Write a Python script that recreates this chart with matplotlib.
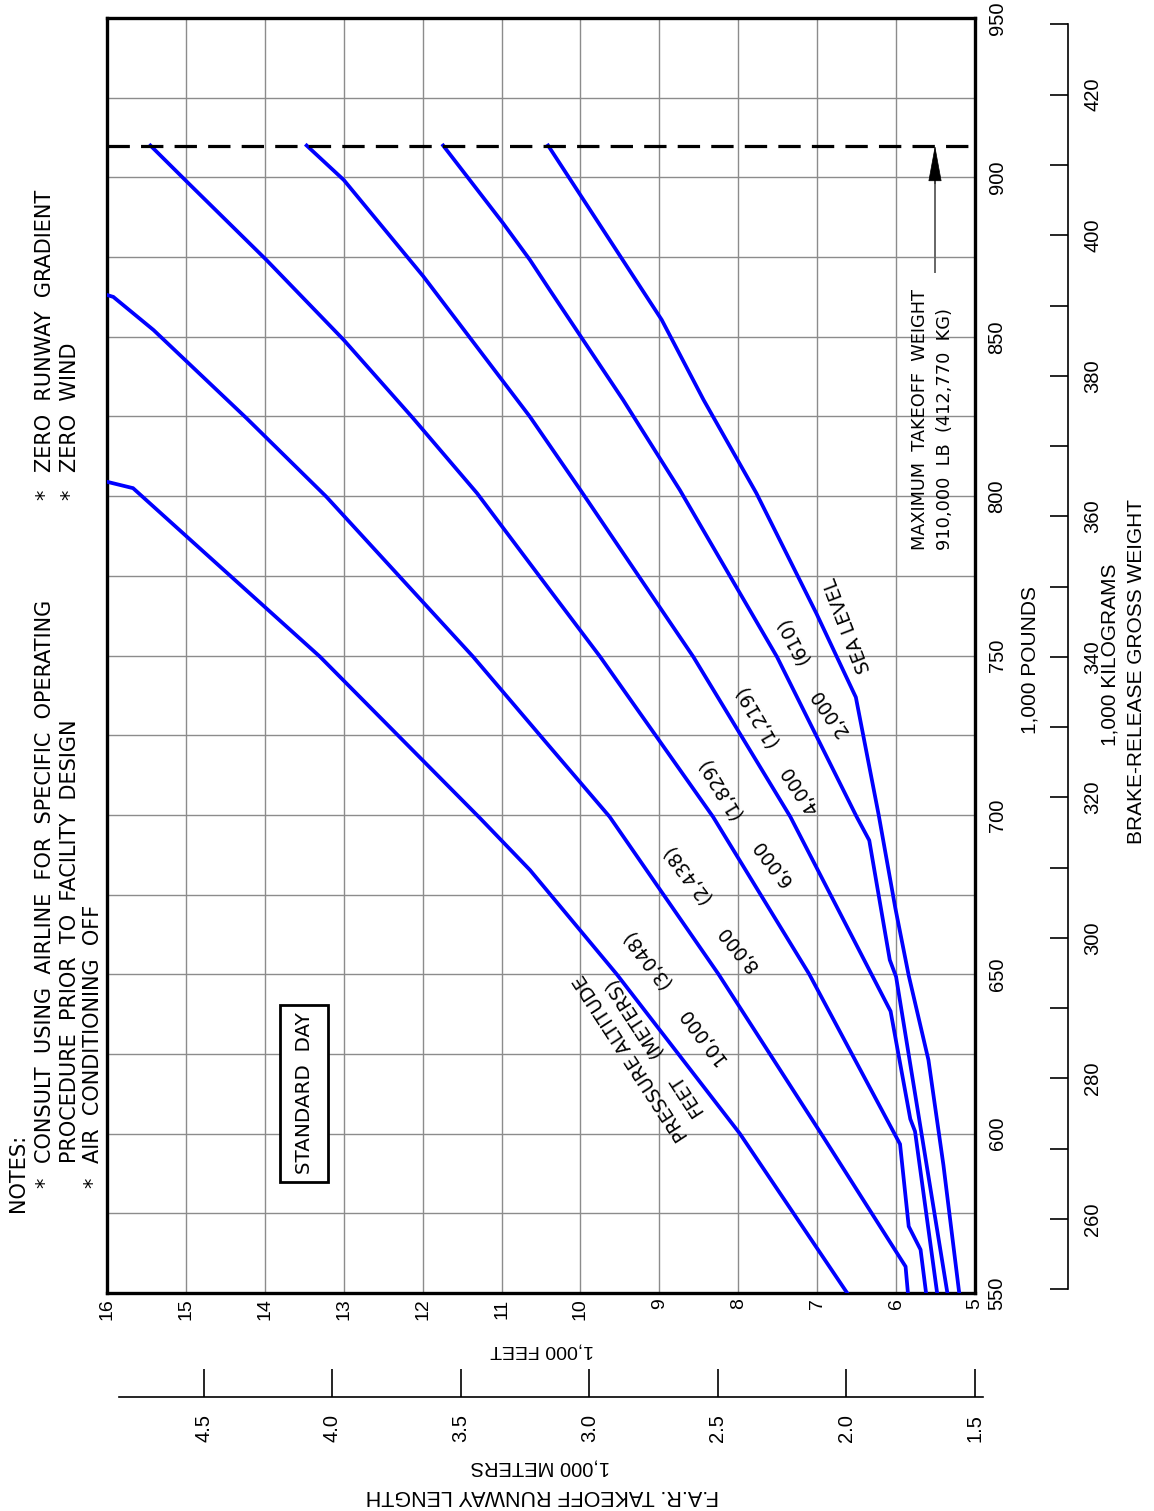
import matplotlib
matplotlib.use("Agg")
import matplotlib.pyplot as plt
from matplotlib.patches import Rectangle
import numpy as np

# ---------------- data (1,000 LB gross weight -> 1,000 FT runway length) -------------
w_sl = [550, 590.1, 623.1, 649.6, 670.8, 699.9, 736.9, 763.2, 800.9, 830.2, 855.3, 910]
f_sl = [5.20, 5.40, 5.59, 5.84, 6.01, 6.22, 6.51, 7.01, 7.77, 8.44, 8.97, 10.41]

w_2000 = [550, 649.2, 654.5, 692.0, 699.4, 749.6, 801.9, 830.2, 864.7, 874.1, 885.6, 910]
f_2000 = [5.35, 6.00, 6.08, 6.34, 6.50, 7.51, 8.74, 9.46, 10.39, 10.64, 10.98, 11.74]

w_4000 = [550, 600.7, 604.6, 638.4, 699.4, 749.6, 801.9, 824.9, 868.9, 899.2, 910]
f_4000 = [5.48, 5.76, 5.82, 6.07, 7.34, 8.57, 10.00, 10.64, 11.99, 13.00, 13.47]

w_6000 = [550, 563.6, 570.9, 596.7, 650, 699.4, 749.6, 770.6, 800.9, 824.4, 849.0, 874.1, 898.7, 910]
f_6000 = [5.62, 5.69, 5.84, 5.95, 7.10, 8.32, 9.75, 10.39, 11.31, 12.12, 13.00, 13.98, 14.99, 15.45]

w_8000 = [550, 558.3, 600, 650, 699.4, 721.4, 749.6, 799.8, 824.4, 852.1, 862.5, 863.1]
f_8000 = [5.85, 5.88, 6.95, 8.25, 9.63, 10.39, 11.36, 13.22, 14.23, 15.41, 15.92, 16.00]

w_10000 = [550, 600, 650, 682.7, 698.9, 749.6, 802.5, 804.5]
f_10000 = [6.62, 7.98, 9.54, 10.64, 11.27, 13.30, 15.67, 16.00]

feet_ticks = [16, 15, 14, 13, 12, 11, 10, 9, 8, 7, 6, 5]
pound_ticks = [550, 600, 650, 700, 750, 800, 850, 900, 950]
kg_ticks = [260, 280, 300, 320, 340, 360, 380, 400, 420]
meter_ticks = [1.5, 2.0, 2.5, 3.0, 3.5, 4.0, 4.5]
max_takeoff_klb = 910

curve_labels = [
    ("SEA LEVEL", 6.61, 759.6, 111),
    ("(610)", 7.31, 754.9, 117),
    ("2,000", 6.84, 732.4, 124),
    ("(1,219)", 7.77, 731.1, 120),
    ("4,000", 7.22, 707.8, 123),
    ("(1,829)", 8.23, 708.4, 121),
    ("6,000", 7.56, 685.2, 127),
    ("(2,438)", 8.66, 681.5, 127),
    ("8,000", 8.00, 658.2, 129),
    ("(3,048)", 9.17, 654.8, 127),
    ("10,000", 8.46, 630.9, 127),
    ("PRESSURE ALTITUDE", 9.36, 624.0, 123),
    ("FEET", 8.66, 612.1, 123),
    ("(METERS)", 9.34, 636.6, 123),
]

LB2KG = 0.45359237
FT2M = 0.3048

# ---------------- figure ----------------
WF, HF = 1154, 1511
fig = plt.figure(figsize=(WF / 100, HF / 100), dpi=100)

def fx(x):
    return x / WF

def fy(y):
    return 1 - y / HF

SANS = ["Liberation Sans", "DejaVu Sans"]
TECH = ["DejaVu Sans"]

L, R, T, B = 107, 975, 18, 1293
ax = fig.add_axes([fx(L), fy(B), (R - L) / WF, (B - T) / HF])
ax.set_xlim(16, 5)
ax.set_ylim(550, 950)
ax.set_xticks(feet_ticks)
ax.set_yticks(pound_ticks)
ax.set_yticks(np.arange(575, 950, 50), minor=True)
ax.grid(True, which="both", color="#8c8c8c", lw=1.0, zorder=1)
ax.set_axisbelow(True)
for s in ax.spines.values():
    s.set_linewidth(2.4)
    s.set_color("black")
ax.yaxis.tick_right()
ax.tick_params(axis="y", which="both", length=0, pad=9, labelsize=14.5, labelrotation=90)
ax.tick_params(axis="x", which="both", length=0, pad=4, labelsize=14, labelrotation=90)
for lbl in ax.get_yticklabels():
    lbl.set_va("center")
    lbl.set_family(SANS)
for lbl in ax.get_xticklabels():
    lbl.set_family(SANS)

series = [(f_sl, w_sl), (f_2000, w_2000), (f_4000, w_4000),
          (f_6000, w_6000), (f_8000, w_8000), (f_10000, w_10000)]
for f, w in series:
    ax.plot(f, w, color="#0000ff", lw=2.7, zorder=3, solid_joinstyle="miter")

# max takeoff weight dashed line + arrow
PX_PER_KFT = (R - L) / 11
PX_PER_KLB = (B - T) / 400

def px2data(x, y):
    return 16 - (x - L) / PX_PER_KFT, 550 + (B - y) / PX_PER_KLB

ax.axhline(max_takeoff_klb, color="black", lw=2.3, ls=(0, (7, 3.5)), zorder=4)
arr_f, arr_w0 = px2data(935, 272)
ax.plot([arr_f, arr_f], [arr_w0, 900], color="#666666", lw=1.4, zorder=4)
ax.annotate("", xy=(arr_f, max_takeoff_klb), xytext=(arr_f, 898),
            arrowprops=dict(arrowstyle="-|>,head_length=1.2,head_width=0.22",
                            mutation_scale=20, color="black", lw=0.5,
                            shrinkA=0, shrinkB=0), zorder=5)
f1, w1 = px2data(920, 550)
f2, w2 = px2data(945, 550)
ax.text(f1, w1, "MAXIMUM  TAKEOFF  WEIGHT", rotation=90, rotation_mode="anchor",
        ha="left", va="center", fontsize=12.8, family=TECH)
ax.text(f2, w2, "910,000  LB  (412,770  KG)", rotation=90, rotation_mode="anchor",
        ha="left", va="center", fontsize=12.8, family=TECH)

# curve labels
for txt, fval, wval, rot in curve_labels:
    ax.text(fval, wval, txt, rotation=rot, rotation_mode="anchor", ha="center",
            va="center", fontsize=13.5, family=TECH, zorder=6)

# standard day box
fig.patches.append(Rectangle((fx(280), fy(1182)), (328 - 280) / WF, (1182 - 1005) / HF,
                             transform=fig.transFigure, fc="white", ec="black",
                             lw=2.0, zorder=5))
fig.text(fx(304), fy(1093), "STANDARD  DAY", rotation=90, ha="center", va="center",
         fontsize=14.3, family=TECH, zorder=6)

# notes
notes = [
    (18, 1212, "NOTES:"),
    (45, 1163, "CONSULT  USING  AIRLINE  FOR  SPECIFIC  OPERATING"),
    (70, 1163, "PROCEDURE  PRIOR  TO  FACILITY  DESIGN"),
    (93, 1163, "AIR  CONDITIONING  OFF"),
    (45, 472, "ZERO  RUNWAY  GRADIENT"),
    (70, 472, "ZERO  WIND"),
]
for x, y, t in notes:
    fig.text(fx(x), fy(y), t, rotation=90, rotation_mode="anchor", ha="left",
             va="center", fontsize=15, family=TECH)
for x, y in [(45, 1183), (93, 1183), (45, 495), (70, 495)]:
    fig.text(fx(x), fy(y), "*", rotation=90, ha="center", va="center",
             fontsize=15, family=TECH)

# ---------------- kilogram axis ----------------
KX = 1068
ax_kg = fig.add_axes([fx(1000), fy(B), fx(KX) - fx(1000), (B - T) / HF])
ax_kg.set_ylim(550 * LB2KG, 950 * LB2KG)
ax_kg.patch.set_visible(False)
for k, s in ax_kg.spines.items():
    s.set_visible(k == "right")
ax_kg.spines["right"].set_bounds(250, 430)
ax_kg.spines["right"].set_linewidth(1.2)
ax_kg.set_xticks([])
ax_kg.yaxis.tick_right()
ax_kg.set_yticks(kg_ticks)
ax_kg.set_yticks(np.arange(250, 431, 10), minor=True)
ax_kg.tick_params(axis="y", which="both", direction="in", length=13, width=1.2,
                  pad=11, labelsize=14.5, labelrotation=90)
for lbl in ax_kg.get_yticklabels():
    lbl.set_va("center")
    lbl.set_family(SANS)

# ---------------- meter axis ----------------
MY = 1397
ax_m = fig.add_axes([fx(L), fy(MY), (R - L) / WF, 30 / HF])
ax_m.set_xlim(16 * FT2M, 5 * FT2M)
ax_m.patch.set_visible(False)
for k, s in ax_m.spines.items():
    s.set_visible(k == "bottom")
ax_m.spines["bottom"].set_bounds(1.467, 4.831)
ax_m.spines["bottom"].set_linewidth(1.2)
ax_m.set_yticks([])
ax_m.set_xticks(meter_ticks)
ax_m.set_xticklabels([f"{v:.1f}" for v in meter_ticks])
ax_m.tick_params(axis="x", direction="in", length=20, width=1.2, pad=12,
                 labelsize=14.5, labelrotation=90)
for lbl in ax_m.get_xticklabels():
    lbl.set_family(SANS)

# ---------------- axis titles ----------------
fig.text(fx(1030), fy(660), "1,000 POUNDS", rotation=90, ha="center", va="center",
         fontsize=15, family=SANS)
fig.text(fx(1110), fy(655), "1,000 KILOGRAMS", rotation=90, ha="center", va="center",
         fontsize=15, family=SANS)
fig.text(fx(1137), fy(672), "BRAKE-RELEASE GROSS WEIGHT", rotation=90, ha="center",
         va="center", fontsize=15, family=SANS)
fig.text(fx(542), fy(1350), "1,000 FEET", rotation=180, ha="center", va="center",
         fontsize=14, family=SANS)
fig.text(fx(540), fy(1467), "1,000 METERS", rotation=180, ha="center", va="center",
         fontsize=14.5, family=SANS)
fig.text(fx(542), fy(1495), "F.A.R. TAKEOFF RUNWAY LENGTH", rotation=180, ha="center",
         va="center", fontsize=15.5, family=SANS)

fig.savefig("out.png", dpi=100, facecolor="white")
